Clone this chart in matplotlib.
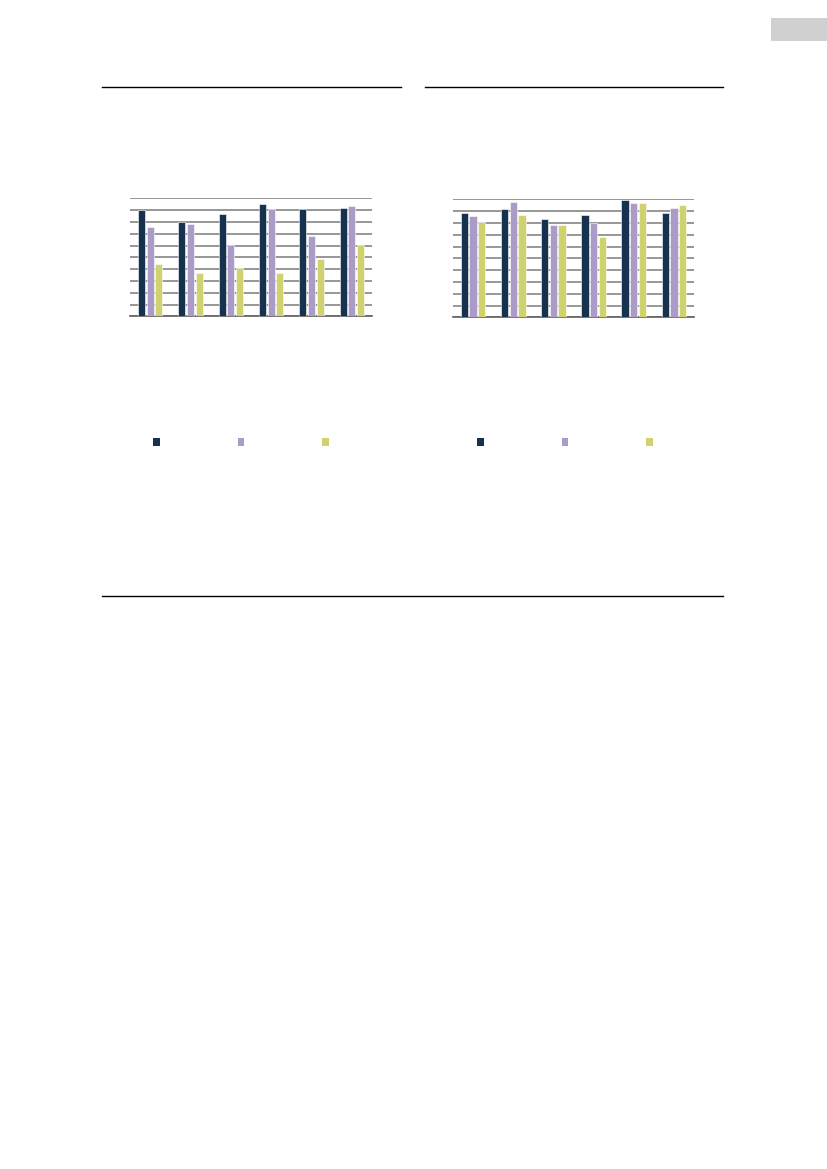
import numpy as np
import matplotlib
matplotlib.use('Agg')
import matplotlib.pyplot as plt
from matplotlib.lines import Line2D
from matplotlib.patches import Patch, Rectangle

# data (scale 0-100, ten gridlines)
groups = ['1', '2', '3', '4', '5', '6']
left_a = [89.8, 79.7, 86.7, 94.9, 90.7, 91.8]
left_b = [75.7, 78.0, 60.7, 91.0, 67.8, 93.8]
left_c = [44.6, 36.7, 40.7, 36.7, 48.9, 60.5]

right_a = [88.7, 91.8, 83.6, 86.7, 99.7, 88.7]
right_b = [85.8, 97.7, 78.5, 79.6, 96.9, 92.6]
right_c = [80.7, 86.7, 78.5, 68.3, 96.9, 94.9]

colors = ['#17324f', '#ab9bc7', '#cfd26e']

W, H = 827, 1169
fig = plt.figure(figsize=(8.27, 11.69), dpi=100)


def px_axes(x0, y0, x1, y1):
    return fig.add_axes([x0 / W, 1 - y1 / H, (x1 - x0) / W, (y1 - y0) / H])


def draw_panel(ax, series):
    x = np.arange(len(groups))
    for i, (vals, c) in enumerate(zip(series, colors)):
        ax.bar(x + (i - 1) * 0.215, vals, width=0.18, color=c,
               edgecolor='white', linewidth=0.4, zorder=3)
    ax.set_xlim(-0.5, len(groups) - 0.5)
    ax.set_ylim(0, 100)
    ax.set_yticks(np.arange(0, 101, 10))
    ax.yaxis.grid(True, color='#7a7a7a', linewidth=1.1, zorder=0)
    ax.tick_params(left=False, bottom=False, labelleft=False, labelbottom=False)
    for s in ['top', 'right', 'left']:
        ax.spines[s].set_visible(False)
    ax.spines['bottom'].set_color('#606060')
    ax.spines['bottom'].set_linewidth(1.2)


ax1 = px_axes(130, 198.3, 372, 316.3)
draw_panel(ax1, [left_a, left_b, left_c])
ax2 = px_axes(453, 199.3, 694, 317.3)
draw_panel(ax2, [right_a, right_b, right_c])

# legends (no labels)
handles = [Patch(facecolor=c, edgecolor='none') for c in colors]
for cx in [241, 565]:
    fig.legend(handles, ['', '', ''], ncol=3, loc='center',
               bbox_to_anchor=(cx / W, 1 - 443 / H), frameon=False,
               handlelength=0.5, handleheight=0.5, handletextpad=0,
               columnspacing=5.6, fontsize=10)

# page rules
def hline(x0, x1, y, lw=1.0):
    fig.add_artist(Line2D([x0 / W, x1 / W], [1 - y / H, 1 - y / H],
                          color='black', linewidth=lw))

hline(102, 401, 87)
hline(425, 723, 87)
hline(102, 723, 596)

# grey tab at top right
fig.add_artist(Rectangle((771 / W, 1 - 41 / H), 56 / W, 23 / H,
                         facecolor='#d0d0d0', edgecolor='none',
                         transform=fig.transFigure))

fig.savefig('out.png', dpi=100)
